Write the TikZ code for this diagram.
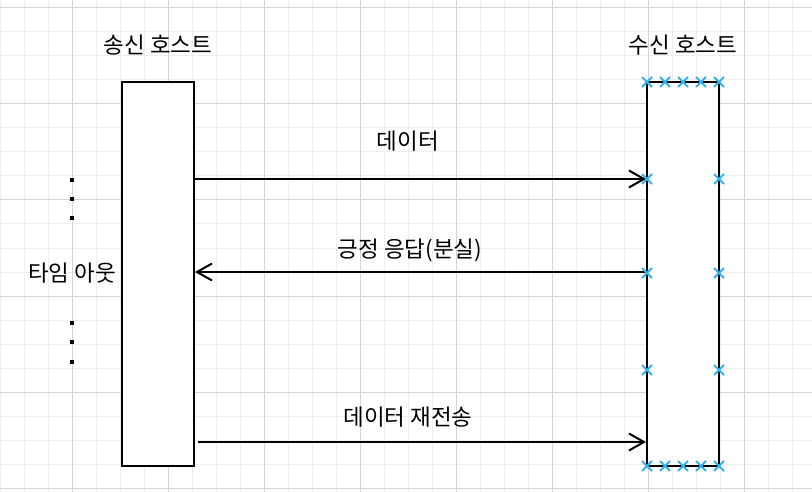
\documentclass[tikz,border=0pt]{standalone}
\usepackage{fontspec}
\setmainfont{Noto Sans CJK KR}
\usetikzlibrary{arrows.meta}

\definecolor{gridminor}{RGB}{238,238,238}
\definecolor{gridmajor}{RGB}{212,212,212}
\definecolor{handle}{RGB}{48,180,240}

\tikzset{
    host/.style={draw=black, fill=white, line width=2pt,
        minimum width=72pt, minimum height=384pt, inner sep=0pt},
    msg/.style={line width=2pt, -{Straight Barb[length=15pt,width=17pt]}},
    lbl/.style={font=\fontsize{22.5}{26}\selectfont, inner sep=0pt}
}

\begin{document}
\begin{tikzpicture}[x=1pt, y=-1pt]
\useasboundingbox (0,0) rectangle (812,492);

% Grid
\foreach \x in {0,24,...,792}
    \draw[gridminor, line width=1pt] (\x,0) -- (\x,492);
\foreach \y in {8,32,...,488}
    \draw[gridminor, line width=1pt] (0,\y) -- (812,\y);
\foreach \x in {72,168,...,744}
    \draw[gridmajor, line width=1pt] (\x,0) -- (\x,492);
\foreach \y in {8,104,...,488}
    \draw[gridmajor, line width=1pt] (0,\y) -- (812,\y);

% Hosts
\node[host] (sender) at (158,274) {};
\node[lbl] (senderlbl) at (158,45) {송신 호스트};
\node[host] (receiver) at (683,274) {};
\node[lbl] (receiverlbl) at (683,45) {수신 호스트};

% Messages
\draw[msg] (sender.east |- 0,179) -- (receiver.west |- 0,179);
\node[lbl] (datalbl) at (408,141) {데이터};

\draw[msg] (receiver.west |- 0,272) -- (sender.east |- 0,272);
\node[lbl] (acklbl) at (410,250) {긍정 응답(분실)};

\draw[msg] ([xshift=3pt]sender.east |- 0,442) -- (receiver.west |- 0,442);
\node[lbl] (resendlbl) at (408,417) {데이터 재전송};

% Timeout
\node[lbl] (timeout) at (72,273) {타임 아웃};
\foreach \y in {180,199,218,323,342,362}
    \fill (70,\y-2) rectangle (74,\y+2);

% Selection handles
\foreach \x in {647,665,683,701,719} {
    \draw[handle, line width=1.8pt] (\x,82) +(-5,-5) -- +(5,5) +(-5,5) -- +(5,-5);
    \draw[handle, line width=1.8pt] (\x,466) +(-5,-5) -- +(5,5) +(-5,5) -- +(5,-5);
}
\foreach \y in {179,273,370} {
    \draw[handle, line width=1.8pt] (647,\y) +(-5,-5) -- +(5,5) +(-5,5) -- +(5,-5);
    \draw[handle, line width=1.8pt] (719,\y) +(-5,-5) -- +(5,5) +(-5,5) -- +(5,-5);
}
\end{tikzpicture}
\end{document}
